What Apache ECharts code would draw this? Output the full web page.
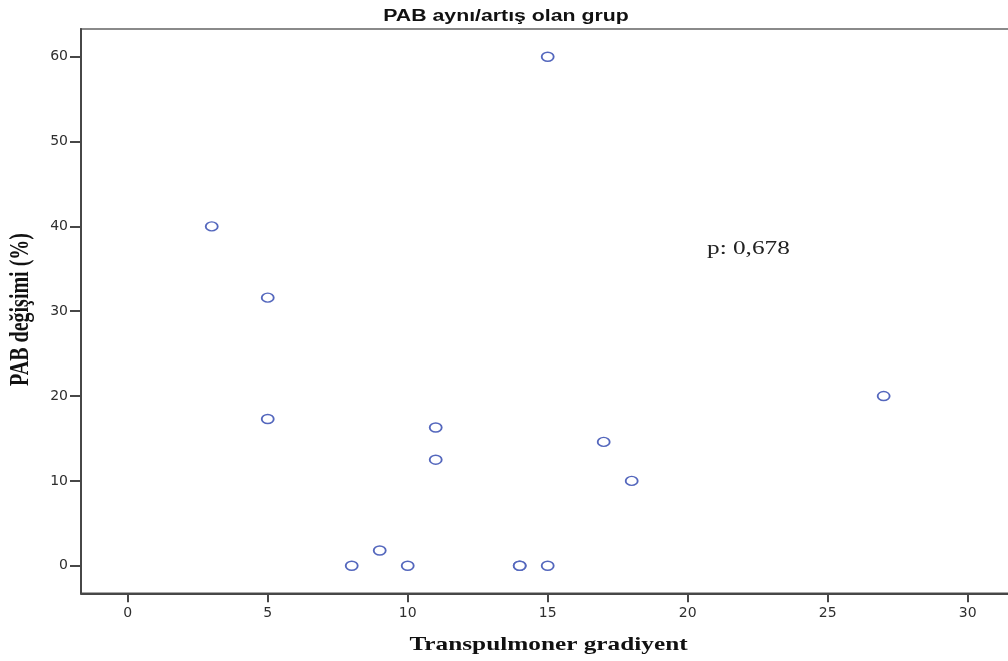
<!DOCTYPE html>
<html>
<head>
<meta charset="utf-8">
<script src="https://cdn.jsdelivr.net/npm/echarts@6/dist/echarts.min.js"></script>
<style>
  html, body { margin: 0; padding: 0; background: #ffffff; }
  #chart { width: 1008px; height: 661px; }
</style>
</head>
<body>
<div id="chart"></div>
<script>
// Transpulmoner gradiyent vs PAB değişimi (%) for the unchanged/increased group
const gradient = [3, 5, 5, 8, 9, 10, 11, 11, 14, 14, 15, 15, 17, 18, 27];
const pabChange = [40, 31.6, 17.3, 0, 1.8, 0, 16.3, 12.5, 0, 0, 0, 60, 14.6, 10, 20];
const xTicks = [0, 5, 10, 15, 20, 25, 30];
const yTicks = [0, 10, 20, 30, 40, 50, 60];
const titleText = 'PAB aynı/artış olan grup';
const xName = 'Transpulmoner gradiyent';
const yName = 'PAB değişimi (%)';
const pText = 'p: 0,678';

const points = gradient.map((g, i) => [g, pabChange[i]]);

const chart = echarts.init(document.getElementById('chart'));
const axisColor = '#474747';
const labelStyle = { color: '#2e2e2e', fontFamily: '"DejaVu Sans", sans-serif', fontSize: 14 };
// the page is drawn slightly wide, so text is stretched horizontally
const wide = 1.33;

function label(text, x, y, font, opts) {
  return Object.assign({
    type: 'text', x: x, y: y, silent: true,
    style: {
      text: text, x: 0, y: 0, font: font, fill: '#111',
      align: 'center', verticalAlign: 'middle',
      textAlign: 'center', textVerticalAlign: 'middle'
    }
  }, opts || {});
}

chart.setOption({
  animation: false,
  backgroundColor: '#ffffff',
  grid: {
    left: 81, top: 29, width: 939, height: 564.3,
    outerBoundsMode: 'none', containLabel: false,
    show: true, borderColor: '#8a8a8a', borderWidth: 2, backgroundColor: 'transparent'
  },
  xAxis: {
    type: 'value', min: -1.67, max: 31.87,
    axisLine: { show: true, onZero: false, lineStyle: { color: axisColor, width: 2 } },
    axisTick: { show: true, length: 9, customValues: xTicks, lineStyle: { color: axisColor, width: 2 } },
    axisLabel: { customValues: xTicks, margin: 13, ...labelStyle },
    splitLine: { show: false }
  },
  yAxis: {
    type: 'value', min: -3.25, max: 63.27,
    axisLine: { show: true, onZero: false, lineStyle: { color: axisColor, width: 2 } },
    axisTick: { show: true, length: 11, customValues: yTicks, lineStyle: { color: axisColor, width: 2 } },
    axisLabel: { customValues: yTicks, margin: 13, ...labelStyle },
    splitLine: { show: false }
  },
  series: [{
    type: 'scatter',
    data: points,
    symbol: 'circle',
    symbolSize: [12, 9],
    itemStyle: { color: '#ffffff', borderColor: '#5467bd', borderWidth: 1.6, opacity: 1 }
  }],
  graphic: [
    label(titleText, 506, 16.5, 'bold 16px "Liberation Sans", Arial, sans-serif', { scaleX: wide }),
    label(xName, 548.5, 645, 'bold 19px "Liberation Serif", "Times New Roman", serif', { scaleX: wide }),
    label(yName, 21, 309.5, 'bold 20px "Liberation Serif", "Times New Roman", serif',
      { rotation: Math.PI / 2, scaleY: wide }),
    {
      type: 'text', x: 707, y: 249, silent: true, scaleX: wide,
      style: {
        text: pText, x: 0, y: 0, font: '19px "Liberation Serif", "Times New Roman", serif', fill: '#222',
        align: 'left', verticalAlign: 'middle', textAlign: 'left', textVerticalAlign: 'middle'
      }
    }
  ]
});
</script>
</body>
</html>
